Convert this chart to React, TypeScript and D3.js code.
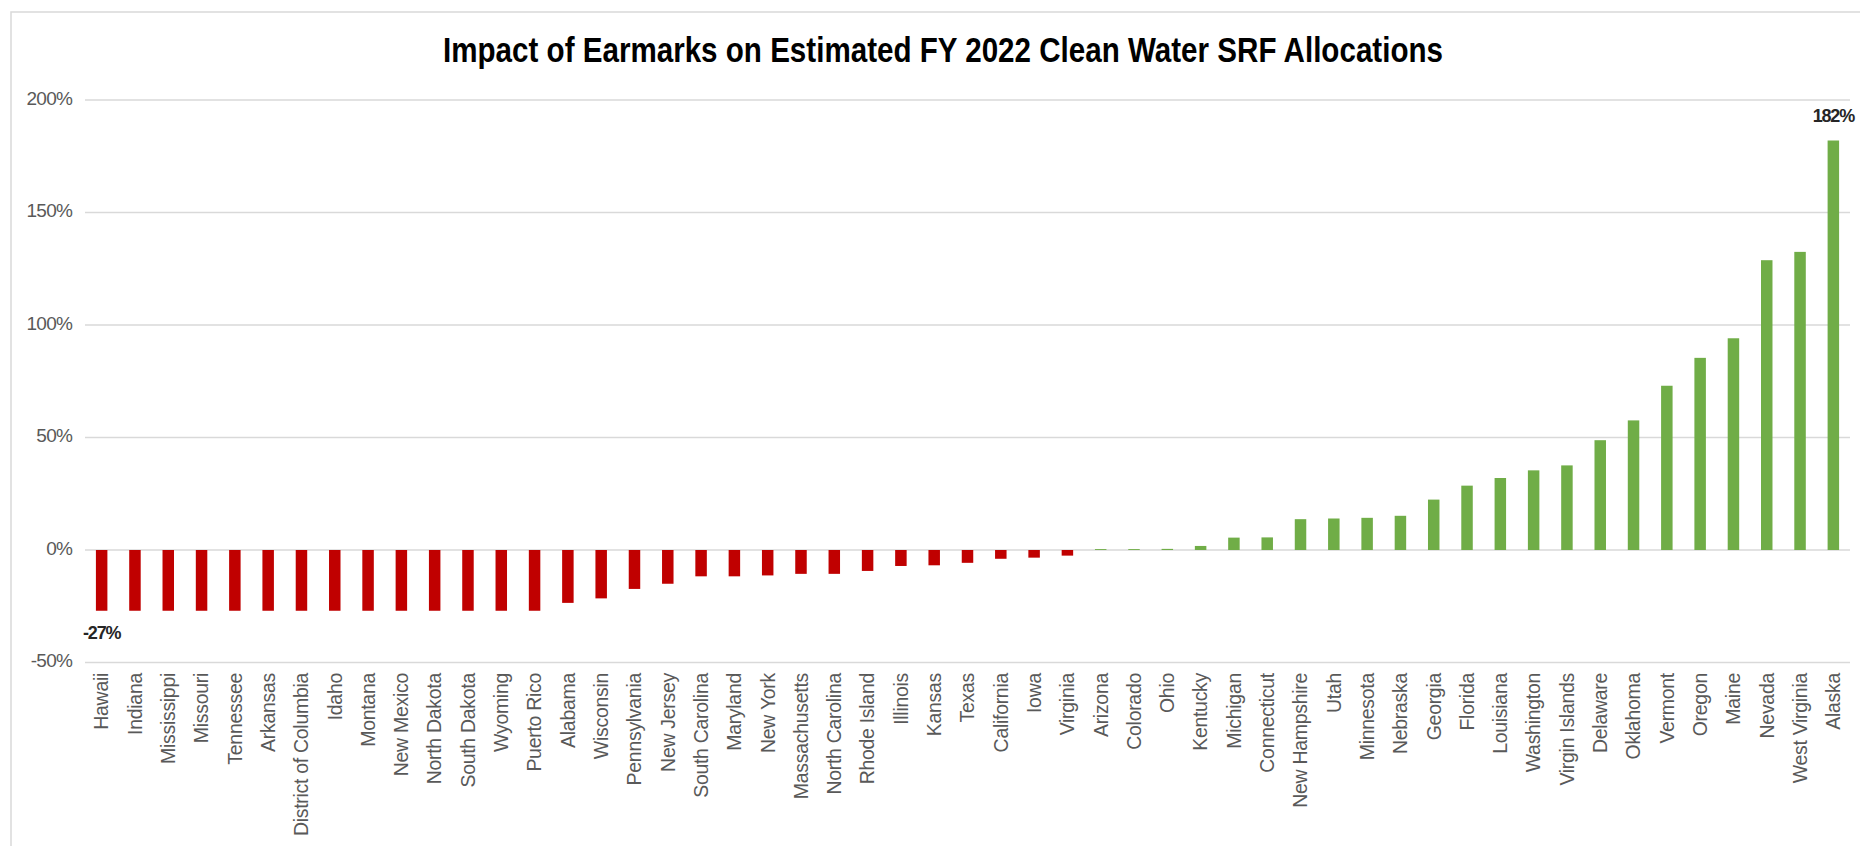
import React from "react";
import * as d3 from "d3";

const TITLE = "Impact of Earmarks on Estimated FY 2022 Clean Water SRF Allocations";

const states: string[] = [
  "Hawaii", "Indiana", "Mississippi", "Missouri", "Tennessee", "Arkansas",
  "District of Columbia", "Idaho", "Montana", "New Mexico", "North Dakota",
  "South Dakota", "Wyoming", "Puerto Rico", "Alabama", "Wisconsin",
  "Pennsylvania", "New Jersey", "South Carolina", "Maryland", "New York",
  "Massachusetts", "North Carolina", "Rhode Island", "Illinois", "Kansas",
  "Texas", "California", "Iowa", "Virginia", "Arizona", "Colorado", "Ohio",
  "Kentucky", "Michigan", "Connecticut", "New Hampshire", "Utah", "Minnesota",
  "Nebraska", "Georgia", "Florida", "Louisiana", "Washington", "Virgin Islands",
  "Delaware", "Oklahoma", "Vermont", "Oregon", "Maine", "Nevada",
  "West Virginia", "Alaska",
];

const impactPct: number[] = [
  -27, -27, -27, -27, -27, -27,
  -27, -27, -27, -27, -27,
  -27, -27, -27, -23.5, -21.5,
  -17.3, -15.0, -11.7, -11.7, -11.3,
  -10.6, -10.6, -9.3, -7.1, -6.8,
  -5.7, -3.9, -3.4, -2.5, 0.4, 0.4, 0.5,
  1.8, 5.5, 5.6, 13.7, 14.0, 14.3,
  15.2, 22.4, 28.6, 32.0, 35.4, 37.6,
  48.8, 57.6, 73.0, 85.4, 94.1, 128.8,
  132.5, 182,
];

const yTicks: number[] = [-50, 0, 50, 100, 150, 200];
const labelledIdx: number[] = [0, 52];

const W = 1860;
const H = 846;

export default function App() {
  const x = d3
    .scaleBand<string>()
    .domain(states)
    .range([85, 1850])
    .paddingInner(0.655)
    .paddingOuter(0.3275);
  const y = d3.scaleLinear().domain([-50, 200]).range([662.5, 100]);
  const fmt = (v: number) => `${Math.round(v)}%`;

  return (
    <svg
      width={W}
      height={H}
      style={{ position: "absolute", left: 0, top: 0, background: "#fff" }}
      fontFamily="'Liberation Sans', Arial, sans-serif"
    >
      <rect x={0} y={0} width={W} height={H} fill="#fff" />
      <rect x={11} y={12} width={1900} height={900} fill="none" stroke="#D9D9D9" strokeWidth={1.5} />

      <text
        x={943}
        y={62}
        textAnchor="middle"
        fontSize={35}
        fontWeight="bold"
        fill="#000"
        textLength={1000}
        lengthAdjust="spacingAndGlyphs"
      >
        {TITLE}
      </text>

      {yTicks.map((t) => (
        <g key={t}>
          <line x1={85} x2={1850} y1={y(t)} y2={y(t)} stroke="#D9D9D9" strokeWidth={1.6} />
          <text
            x={72}
            y={y(t) - 2}
            textAnchor="end"
            dominantBaseline="central"
            fontSize={19}
            letterSpacing={-0.8}
            fill="#595959"
          >
            {fmt(t)}
          </text>
        </g>
      ))}

      {states.map((s, i) => {
        const v = impactPct[i];
        const y0 = y(0);
        const yv = y(v);
        return (
          <rect
            key={s}
            x={x(s)!}
            width={x.bandwidth()}
            y={Math.min(y0, yv)}
            height={Math.max(Math.abs(yv - y0), 0.8)}
            fill={v < 0 ? "#C00000" : "#70AD47"}
          />
        );
      })}

      {labelledIdx.map((i) => {
        const s = states[i];
        const v = impactPct[i];
        const cx = x(s)! + x.bandwidth() / 2;
        const ly = v < 0 ? y(v) + 22 : y(v) - 25;
        return (
          <text
            key={"l" + s}
            x={cx}
            y={ly}
            textAnchor="middle"
            dominantBaseline="central"
            fontSize={18}
            fontWeight="bold"
            letterSpacing={-1.2}
            fill="#262626"
          >
            {fmt(v)}
          </text>
        );
      })}

      {states.map((s) => {
        const cx = x(s)! + x.bandwidth() / 2;
        return (
          <text
            key={"c" + s}
            transform={`translate(${cx},673) rotate(-90)`}
            textAnchor="end"
            dy="0.35em"
            fontSize={19.5}
            letterSpacing={-0.3}
            fill="#595959"
          >
            {s}
          </text>
        );
      })}
    </svg>
  );
}
